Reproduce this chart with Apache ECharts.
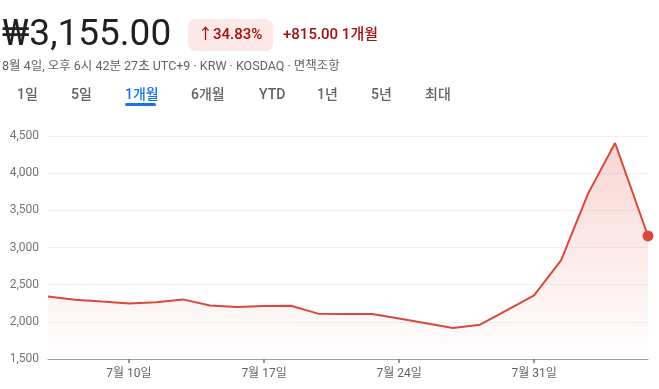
<!DOCTYPE html>
<html><head><meta charset="utf-8">
<script src="https://cdn.jsdelivr.net/npm/echarts@6/dist/echarts.min.js"></script>
<style>html,body{margin:0;padding:0;background:#fff}#c{width:659px;height:389px}</style>
</head><body><div id="c"></div>
<script>
// trading days (labels), session positions (trading-day index; last = intraday quote), prices
const dates = ['7월 5일','7월 6일','7월 7일','7월 10일','7월 11일','7월 12일','7월 13일','7월 14일','7월 17일','7월 18일','7월 19일','7월 20일','7월 21일','7월 24일','7월 25일','7월 26일','7월 27일','7월 28일','7월 31일','8월 1일','8월 2일','8월 3일','8월 4일'];
const sessionPos = [0,1,2,3,4,5,6,7,8,9,10,11,12,13,14,15,16,17,18,19,20,21,22.22];
const prices = [2340,2298,2272,2248,2262,2302,2221,2198,2212,2217,2110,2105,2105,2045,1980,1916,1962,2158,2356,2827,3725,4406,3155];
const xTickPos = [3,8,13,18];
const yTicks = [1500,2000,2500,3000,3500,4000,4500];
const tabs = ['1일','5일','1개월','6개월','YTD','1년','5년','최대'];
const headerPrice = '₩3,155.00';
const changePct = '↑34.83%';
const changeAbs = '+815.00 1개월';
const subtitle = '8월 4일, 오후 6시 42분 27초 UTC+9 · KRW · KOSDAQ · 면책조항';

const FONT = "Roboto, 'Noto Sans CJK KR', sans-serif";
const RED = '#d9483b';
const chart = echarts.init(document.getElementById('c'));

const seriesData = prices.map((p, i) => {
  const last = i === prices.length - 1;
  return last ? {value:[sessionPos[i], p], symbol:'circle', symbolSize:11} : {value:[sessionPos[i], p], symbol:'none'};
});

const tabX = [17,71,125,191,259,317,371,425];
const graphics = [
  {type:'text', x:2, y:36, style:{text:headerPrice, font:"400 37px "+FONT, fill:'#202124', textVerticalAlign:'middle'}},
  {type:'rect', shape:{x:188,y:19,width:85,height:32,r:8}, style:{fill:'#fce8e6'}},
  {type:'text', x:198, y:35, style:{text:changePct, font:"500 15px "+FONT, fill:'#a50e0e', textVerticalAlign:'middle'}},
  {type:'text', x:283, y:35, style:{text:changeAbs, font:"500 15px "+FONT, fill:'#a50e0e', textVerticalAlign:'middle'}},
  {type:'text', x:2, y:67, style:{text:subtitle, font:"400 12.5px "+FONT, fill:'#5f6368', textVerticalAlign:'middle'}},
  {type:'rect', shape:{x:125,y:103,width:31,height:3,r:1.5}, style:{fill:'#1a73e8'}}
];
tabs.forEach((t, i) => {
  graphics.push({type:'text', x:tabX[i], y:95, style:{text:t, font:"500 14px "+FONT, fill: i===2 ? '#1a73e8' : '#5f6368', textVerticalAlign:'middle'}});
});

chart.setOption({
  animation:false,
  grid:{left:48, right:11, top:136, bottom:30},
  xAxis:{type:'value', min:0, max:22.22,
    axisLine:{show:true, lineStyle:{color:'#9aa0a6', width:1}},
    axisTick:{show:true, customValues:xTickPos, length:4, lineStyle:{color:'#70757a', width:1.5}},
    axisLabel:{customValues:xTickPos, formatter:v => dates[Math.round(v)], color:'#5f6368', fontSize:12, fontFamily:FONT, margin:9},
    splitLine:{show:false}},
  yAxis:{type:'value', min:1500, max:4500, interval:500,
    axisLine:{show:false}, axisTick:{show:false},
    axisLabel:{formatter:v => v.toLocaleString('en-US'), color:'#70757a', fontSize:12, fontFamily:FONT, margin:9},
    splitLine:{lineStyle:{color:'#f1f1f1', width:1}}},
  series:[{type:'line', data:seriesData, clip:false,
    lineStyle:{color:RED, width:2}, itemStyle:{color:RED},
    areaStyle:{color:new echarts.graphic.LinearGradient(0,0,0,1,[{offset:0,color:'rgba(219,72,59,0.32)'},{offset:1,color:'rgba(219,72,59,0)'}])}}],
  graphic:graphics
});
</script></body></html>
